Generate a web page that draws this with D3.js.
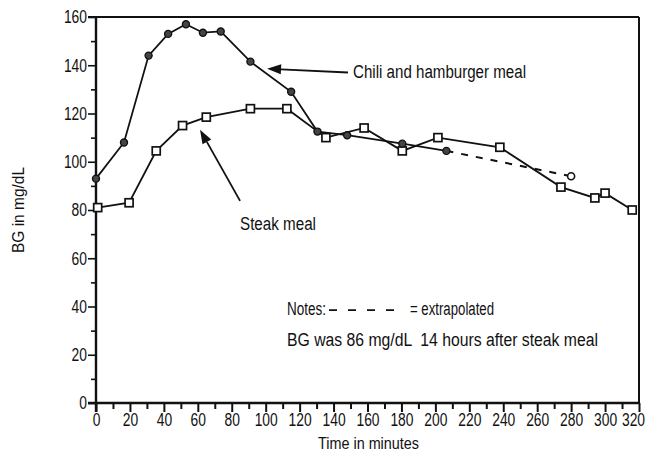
<!DOCTYPE html>
<html>
<head>
<meta charset="utf-8">
<script src="https://cdn.jsdelivr.net/npm/d3@7"></script>
<style>
  html, body { margin: 0; padding: 0; background: #fff; }
  svg { display: block; }
  text { font-family: "Liberation Sans", Arial, sans-serif; fill: #111; white-space: pre; }
</style>
</head>
<body>
<svg id="chart" width="652" height="458"></svg>
<script>
// ---- data ----
const chiliTime = [0, 16.5, 31, 42.5, 53, 63, 73.5, 91, 115, 130.5, 148, 180.5, 206.5];
const chiliBG   = [93, 108, 144, 153, 157, 153.5, 154, 141.5, 129, 112.5, 111, 107.5, 104.5];
const chiliExtrapTime = [206.5, 280];
const chiliExtrapBG   = [104.5, 94];
const steakTime = [1, 19.5, 35.5, 51, 65, 91, 112.5, 135.5, 158, 180.5, 201.5, 238, 274, 294, 300, 316];
const steakBG   = [81, 83, 104.5, 115, 118.5, 122, 122, 110, 114, 104.5, 110, 106, 89.5, 85, 87, 80];
const xTicks = [0, 20, 40, 60, 80, 100, 120, 140, 160, 180, 200, 220, 240, 260, 280, 300, 320];
const yTicks = [0, 20, 40, 60, 80, 100, 120, 140, 160];
const xLabel = "Time in minutes";
const yLabel = "BG in mg/dL";
const chiliLabel = "Chili and hamburger meal";
const steakLabel = "Steak meal";
const noteLabel1 = "Notes:";
const noteLabel2 = "= extrapolated";
const noteLabel3 = "BG was 86 mg/dL  14 hours after steak meal";

// ---- layout ----
const svg = d3.select("#chart");
const x = d3.scaleLinear().domain([0, 320]).range([96, 639]);
const y = d3.scaleLinear().domain([0, 160]).range([403, 17]);
const FS = 18;

function condense(sel, k) {
  sel.each(function () {
    const w = this.getComputedTextLength();
    if (w > 0) {
      this.setAttribute("textLength", (w * k).toFixed(1));
      this.setAttribute("lengthAdjust", "spacingAndGlyphs");
    }
  });
}
function fitWidth(sel, w) {
  sel.attr("textLength", w).attr("lengthAdjust", "spacingAndGlyphs");
}

// frame (top & right)
svg.append("line").attr("x1", 88).attr("x2", x(320)).attr("y1", y(160)).attr("y2", y(160))
  .attr("stroke", "#111").attr("stroke-width", 2);
svg.append("line").attr("x1", x(320)).attr("x2", x(320)).attr("y1", y(160)).attr("y2", y(0))
  .attr("stroke", "#111").attr("stroke-width", 2);

// x axis
const xAxis = d3.axisBottom(x).tickValues(d3.range(0, 321, 10)).tickSize(6)
  .tickFormat(d => xTicks.includes(d) ? d : "");
const gx = svg.append("g").attr("transform", `translate(0,${y(0)})`).call(xAxis);
gx.select(".domain").attr("stroke", "#111").attr("stroke-width", 2.4).attr("d", `M88,0H${x(320)}`);
gx.selectAll(".tick line").attr("stroke", "#111").attr("stroke-width", 2)
  .attr("y2", d => d % 20 === 0 ? 9 : 6);
gx.selectAll(".tick text").attr("y", 10).attr("font-size", FS).attr("fill", "#111")
  .attr("dx", d => d === 320 ? -6 : 0);

// y axis
const yAxis = d3.axisLeft(y).tickValues(d3.range(0, 161, 10)).tickSize(6)
  .tickFormat(d => yTicks.includes(d) ? d : "");
const gy = svg.append("g").attr("transform", `translate(${x(0)},0)`).call(yAxis);
gy.select(".domain").attr("stroke", "#111").attr("stroke-width", 2.4).attr("d", `M0,${y(160)}V${y(0) + 9}`);
gy.selectAll(".tick line").attr("stroke", "#111").attr("stroke-width", 1.6)
  .attr("x2", d => d % 20 === 0 ? -8 : -5);
gy.selectAll(".tick text").attr("x", -9).attr("font-size", FS).attr("fill", "#111");
svg.selectAll(".tick text").style("font-family", '"Liberation Sans", Arial, sans-serif');
condense(svg.selectAll(".tick text"), 0.77);

// axis titles
fitWidth(svg.append("text").attr("x", 318).attr("y", 445)
  .attr("font-size", 16).attr("dominant-baseline", "middle").text(xLabel), 101);
fitWidth(svg.append("text").attr("transform", `translate(20,210) rotate(-90)`).attr("text-anchor", "middle")
  .attr("dominant-baseline", "middle").attr("font-size", 16).text(yLabel), 86);

// lines
const line = d3.line().x(d => x(d[0])).y(d => y(d[1]));
const chili = chiliTime.map((t, i) => [t, chiliBG[i]]);
const steak = steakTime.map((t, i) => [t, steakBG[i]]);
const extrap = chiliExtrapTime.map((t, i) => [t, chiliExtrapBG[i]]);

svg.append("path").attr("d", line(extrap)).attr("fill", "none").attr("stroke", "#111")
  .attr("stroke-width", 2).attr("stroke-dasharray", "7,8");
svg.append("path").attr("d", line(steak)).attr("fill", "none").attr("stroke", "#111").attr("stroke-width", 1.8);
svg.append("path").attr("d", line(chili)).attr("fill", "none").attr("stroke", "#111").attr("stroke-width", 1.8);

// markers
svg.selectAll(".sq").data(steak).enter().append("rect")
  .attr("x", d => x(d[0]) - 4).attr("y", d => y(d[1]) - 4)
  .attr("width", 8).attr("height", 8).attr("fill", "#fff").attr("stroke", "#111").attr("stroke-width", 1.7);
svg.selectAll(".ci").data(chili).enter().append("circle")
  .attr("cx", d => x(d[0])).attr("cy", d => y(d[1])).attr("r", 3.5)
  .attr("fill", "#444").attr("stroke", "#111").attr("stroke-width", 1.4);
svg.append("circle").attr("cx", x(extrap[1][0])).attr("cy", y(extrap[1][1])).attr("r", 3.5)
  .attr("fill", "#fff").attr("stroke", "#111").attr("stroke-width", 1.6);

// arrows
function arrow(t0, v0, t1, v1) {
  const x0 = x(t0), y0 = y(v0), x1 = x(t1), y1 = y(v1);
  const a = Math.atan2(y1 - y0, x1 - x0);
  const L = 14, W = 5;
  const bx = x1 - L * Math.cos(a), by = y1 - L * Math.sin(a);
  svg.append("line").attr("x1", x0).attr("y1", y0).attr("x2", bx).attr("y2", by)
    .attr("stroke", "#111").attr("stroke-width", 1.8);
  const p = [[x1, y1],
    [bx + W * Math.sin(a), by - W * Math.cos(a)],
    [bx - W * Math.sin(a), by + W * Math.cos(a)]];
  svg.append("path").attr("d", "M" + p.map(q => q.join(",")).join("L") + "Z").attr("fill", "#111");
}
arrow(148.5, 137, 100.8, 138.6);
arrow(84.9, 83.8, 61.3, 113.3);

// annotation texts
fitWidth(svg.append("text").attr("x", 353).attr("y", y(136.5)).attr("dominant-baseline", "middle")
  .attr("font-size", FS).text(chiliLabel), 173);
fitWidth(svg.append("text").attr("x", 240).attr("y", y(73.5)).attr("dominant-baseline", "middle")
  .attr("font-size", FS).text(steakLabel), 76);
fitWidth(svg.append("text").attr("x", 287).attr("y", y(38.5)).attr("dominant-baseline", "middle")
  .attr("font-size", FS).text(noteLabel1), 39);
svg.append("line").attr("x1", 329).attr("x2", 394).attr("y1", y(38.5)).attr("y2", y(38.5))
  .attr("stroke", "#111").attr("stroke-width", 1.6).attr("stroke-dasharray", "8,11");
fitWidth(svg.append("text").attr("x", 410).attr("y", y(38.5)).attr("dominant-baseline", "middle")
  .attr("font-size", FS).text(noteLabel2), 84);
fitWidth(svg.append("text").attr("x", 287).attr("y", y(25.5)).attr("dominant-baseline", "middle")
  .attr("font-size", FS).text(noteLabel3), 311);
</script>
</body>
</html>
